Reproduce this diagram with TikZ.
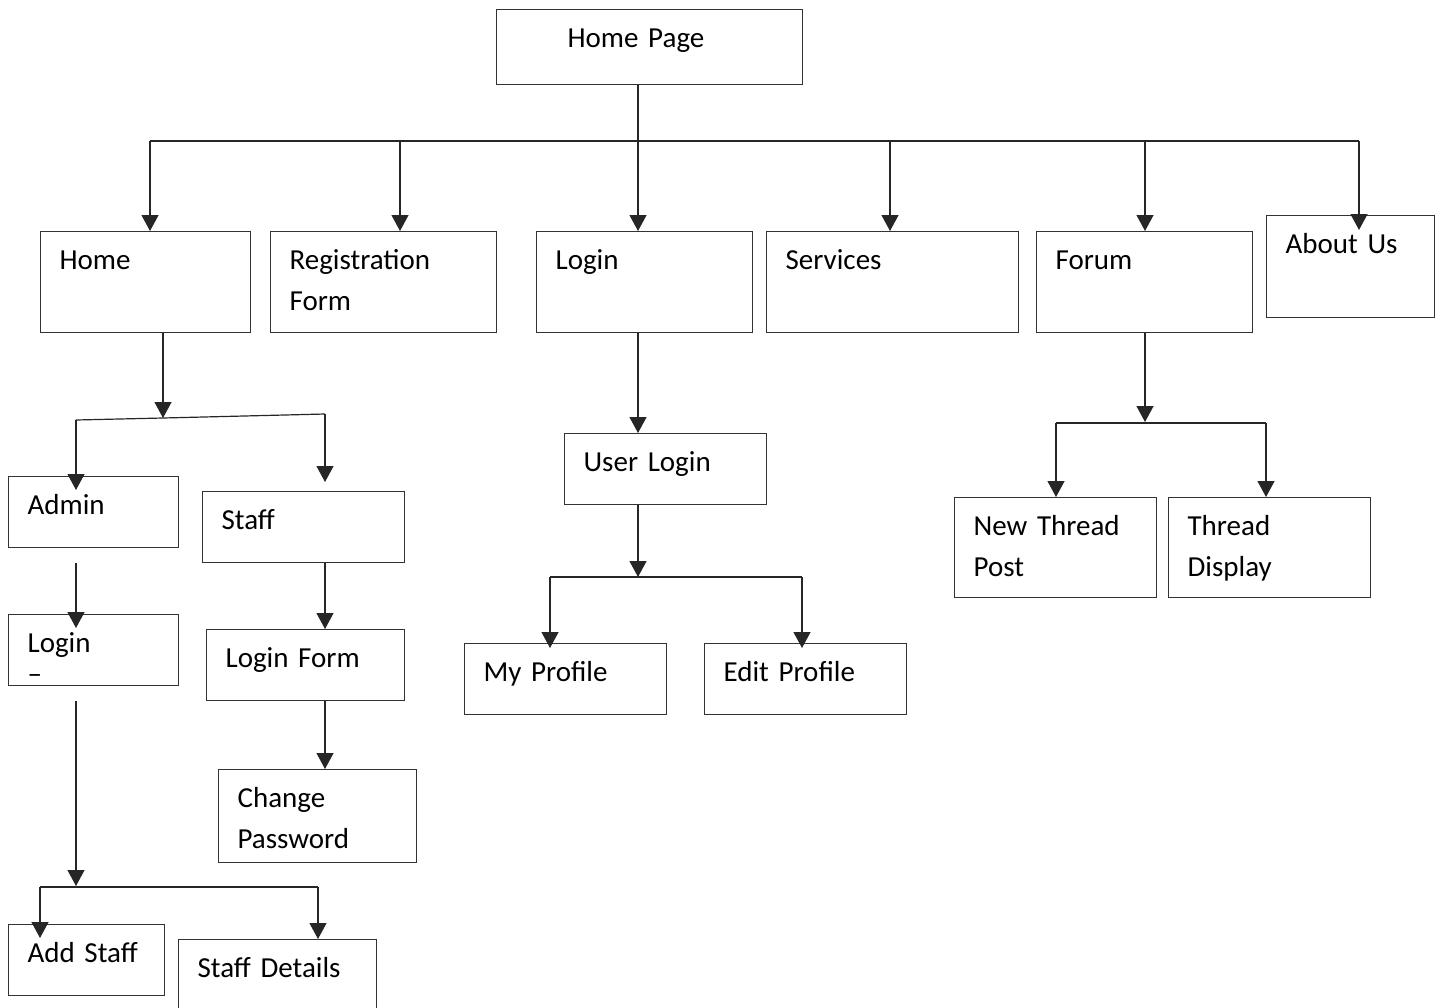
\documentclass[tikz,border=0pt]{standalone}
\usepackage{fontspec}
\setmainfont{Carlito}
\usetikzlibrary{arrows.meta}

\begin{document}
\begin{tikzpicture}[
        x=1pt, y=-1pt,
        box/.style = {
            rectangle,
            draw=black!80,
            line width=1.2pt,
            anchor=north west,
            align=left,
            inner xsep=19pt,
            inner ysep=0pt,
            text height=38pt,
            font=\fontsize{29}{41}\selectfont
        },
        arrow/.style = {
            -{Triangle[length=16pt, width=17pt]},
            line width=1.2pt,
            draw=black!85
        },
        link/.style = {
            line width=1.2pt,
            draw=black!85
        }
    ]
    \useasboundingbox (0,0) rectangle (1442,1007);

    % Nodes
    \node[box, text width=268pt, text depth=37pt] (homepage) at (496,9) {\hspace*{52pt}Home Page};

    \node[box, text width=172pt, text depth=63pt] (home)     at (40,231)   {Home};
    \node[box, text width=188pt, text depth=63pt] (reg)      at (270,231)  {Registration\\Form};
    \node[box, text width=178pt, text depth=63pt] (login)    at (536,231)  {Login};
    \node[box, text width=214pt, text depth=63pt] (services) at (766,231)  {Services};
    \node[box, text width=178pt, text depth=63pt] (forum)    at (1036,231) {Forum};
    \node[box, text width=130pt, text depth=64pt] (about)    at (1266,215) {About Us};

    \node[box, text width=132pt, text depth=33pt] (admin)      at (8,476)   {Admin};
    \node[box, text width=164pt, text depth=33pt] (staff)      at (202,491) {Staff};
    \node[box, text width=132pt, text depth=33pt] (adminlogin) at (8,614)   {Login\\[-10pt]–};
    \node[box, text width=160pt, text depth=33pt] (loginform)  at (206,629) {Login Form};
    \node[box, text width=160pt, text depth=55pt] (changepw)   at (218,769) {Change\\Password};
    \node[box, text width=118pt, text depth=33pt] (addstaff)   at (8,924)   {Add Staff};
    \node[box, text width=160pt, text depth=42pt] (staffdet)   at (178,939) {Staff Details};

    \node[box, text width=164pt, text depth=33pt] (userlogin)   at (564,433) {User Login};
    \node[box, text width=164pt, text depth=33pt] (myprofile)   at (464,643) {My Profile};
    \node[box, text width=164pt, text depth=33pt] (editprofile) at (704,643) {Edit Profile};

    \node[box, text width=164pt, text depth=62pt] (newthread)  at (954,497)  {New Thread\\Post};
    \node[box, text width=164pt, text depth=62pt] (threaddisp) at (1168,497) {Thread\\Display};

    % Branch points
    \coordinate (b0) at (638,141);
    \coordinate (b1) at (150,141);
    \coordinate (b2) at (400,141);
    \coordinate (b4) at (890,141);
    \coordinate (b5) at (1145,141);
    \coordinate (b6) at (1359,141);

    \coordinate (h0) at (163,418);
    \coordinate (h1) at (76,420);
    \coordinate (h2) at (325,414);

    \coordinate (a0) at (76,886);
    \coordinate (a1) at (40,887);
    \coordinate (a2) at (318,887);

    \coordinate (u0) at (638,577);
    \coordinate (u1) at (550,577);
    \coordinate (u2) at (802,577);

    \coordinate (f0) at (1145,422);
    \coordinate (f1) at (1056,423);
    \coordinate (f2) at (1266,423);

    % Top level
    \draw[arrow] (b0 |- homepage.south) -- (b0 |- login.north);
    \draw[link] (b1) -- (b6);
    \foreach \b/\n in {b1/home, b2/reg, b4/services, b5/forum}
        \draw[arrow] (\b) -- (\b |- \n.north);
    \draw[arrow] (b6) -- ([yshift=-15pt]b6 |- about.north);

    % Home branch
    \draw[arrow] (h0 |- home.south) -- (h0);
    \draw[link] (h1) -- (h0) -- (h2);
    \draw[arrow] (h1) -- ([yshift=-14pt]h1 |- admin.north);
    \draw[arrow] (h2) -- ([yshift=9pt]h2 |- staff.north);
    \draw[arrow] ([yshift=-15pt]h1 |- admin.south) -- ([yshift=-14pt]h1 |- adminlogin.north);
    \draw[arrow] (h2 |- staff.south) -- (h2 |- loginform.north);
    \draw[arrow] (h2 |- loginform.south) -- (h2 |- changepw.north);
    \draw[arrow] ([yshift=-15pt]a0 |- adminlogin.south) -- (a0);
    \draw[link] (a1) -- (a2);
    \draw[arrow] (a1) -- ([yshift=-14pt]a1 |- addstaff.north);
    \draw[arrow] (a2) -- (a2 |- staffdet.north);

    % Login branch
    \draw[arrow] (b0 |- login.south) -- (b0 |- userlogin.north);
    \draw[arrow] (u0 |- userlogin.south) -- (u0);
    \draw[link] (u1) -- (u2);
    \draw[arrow] (u1) -- ([yshift=-5pt]u1 |- myprofile.north);
    \draw[arrow] (u2) -- ([yshift=-5pt]u2 |- editprofile.north);

    % Forum branch
    \draw[arrow] (b5 |- forum.south) -- (f0);
    \draw[link] (f1) -- (f2);
    \draw[arrow] (f1) -- (f1 |- newthread.north);
    \draw[arrow] (f2) -- (f2 |- threaddisp.north);

\end{tikzpicture}
\end{document}
